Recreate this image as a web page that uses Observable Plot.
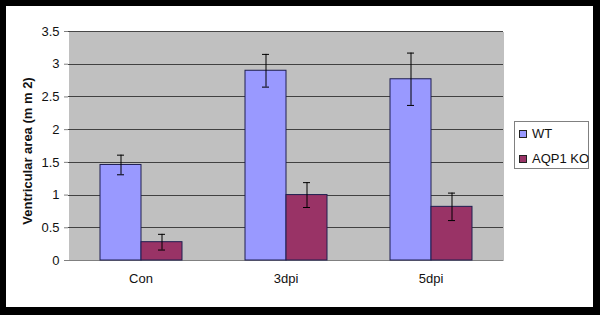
<!DOCTYPE html>
<html>
<head>
<meta charset="utf-8">
<script src="https://cdn.jsdelivr.net/npm/d3@7"></script>
<script src="https://cdn.jsdelivr.net/npm/@observablehq/plot@0.6"></script>
<style>
  html, body { margin: 0; padding: 0; background: #000; }
  #page { position: relative; width: 600px; height: 315px; background: #000; overflow: hidden; }
  #inner { position: absolute; left: 6px; top: 6px; width: 587px; height: 301px; background: #fff; }
  #chart { position: absolute; left: 0; top: 0; }
  #legend { position: absolute; left: 514px; top: 121px; width: 73px; height: 46px; border: 1px solid #808080; background: #fff;
            font-family: "Liberation Sans", Arial, sans-serif; font-size: 13px; color: #111; white-space: nowrap; }
  .item { position: absolute; left: 4px; display: flex; align-items: center; white-space: nowrap; }
  .sw { width: 6px; height: 6px; border: 1px solid #222; margin-right: 5px; flex: none; }
</style>
</head>
<body>
<div id="page">
  <div id="inner"></div>
  <div id="chart"></div>
  <div id="legend"></div>
</div>
<script>
const categories = ["Con", "3dpi", "5dpi"];
const series = ["WT", "AQP1 KO"];
const colors = ["#9999FF", "#993366"];
const wtValues = [1.46, 2.90, 2.77];
const wtErrors = [0.15, 0.25, 0.40];
const koValues = [0.28, 1.00, 0.82];
const koErrors = [0.12, 0.19, 0.21];
const yTicks = [0, 0.5, 1, 1.5, 2, 2.5, 3, 3.5];
const yTickLabels = ["0", "0.5", "1", "1.5", "2", "2.5", "3", "3.5"];
const yLabel = "Ventricular area (m m 2)";

const rows = [];
categories.forEach((c, i) => {
  rows.push({cat: c, series: series[0], value: wtValues[i], lo: wtValues[i] - wtErrors[i], hi: wtValues[i] + wtErrors[i]});
  rows.push({cat: c, series: series[1], value: koValues[i], lo: koValues[i] - koErrors[i], hi: koValues[i] + koErrors[i]});
});

const chart = Plot.plot({
  width: 600,
  height: 315,
  marginLeft: 67,
  marginTop: 31,
  marginRight: 96,
  marginBottom: 55,
  style: {background: "transparent", fontFamily: "'Liberation Sans', Arial, sans-serif", fontSize: "13px", color: "#111", overflow: "visible"},
  fx: {domain: categories, padding: 0, label: null},
  x: {domain: series, paddingInner: 0, paddingOuter: 0.75, axis: null},
  y: {domain: [0, 3.5], axis: null},
  color: {domain: series, range: colors},
  marks: [
    Plot.frame({fill: "#C0C0C0", shapeRendering: "crispEdges"}),
    Plot.gridY(yTicks, {stroke: "#333", strokeOpacity: 0.9, shapeRendering: "crispEdges"}),
    Plot.ruleY([0], {stroke: "#808080", shapeRendering: "crispEdges"}),
    Plot.axisY(yTicks, {
      anchor: "left",
      tickSize: 4,
      tickPadding: 5,
      tickFormat: (d) => yTickLabels[yTicks.indexOf(d)],
      fontSize: 13,
      label: null,
      stroke: "#808080"
    }),
    Plot.text([{cat: categories[0]}], {
      fx: "cat",
      frameAnchor: "left",
      textAnchor: "middle",
      lineAnchor: "middle",
      text: () => yLabel,
      rotate: -90,
      dx: -40.5,
      dy: 5,
      fontWeight: "bold",
      fontSize: 13,
      fill: "#111"
    }),
    Plot.axisFx({anchor: "bottom", tickSize: 0, tickPadding: 13, fontSize: 13, label: null}),
    Plot.barY(rows, {fx: "cat", x: "series", y: "value", fill: "series", stroke: "#1e1e50", strokeWidth: 1}),
    Plot.ruleX(rows, {fx: "cat", x: "series", y1: "lo", y2: "hi", stroke: "#000", strokeWidth: 1}),
    Plot.tickY(rows, {fx: "cat", x: "series", y: "lo", stroke: "#000", insetLeft: 17, insetRight: 17}),
    Plot.tickY(rows, {fx: "cat", x: "series", y: "hi", stroke: "#000", insetLeft: 17, insetRight: 17})
  ]
});
document.getElementById("chart").appendChild(chart);

const legend = document.getElementById("legend");
series.forEach((s, i) => {
  const item = document.createElement("div");
  item.className = "item";
  item.style.top = (i === 0 ? 4 : 29) + "px";
  const sw = document.createElement("div");
  sw.className = "sw";
  sw.style.background = colors[i];
  const label = document.createElement("span");
  label.textContent = s;
  item.appendChild(sw);
  item.appendChild(label);
  legend.appendChild(item);
});
</script>
</body>
</html>
